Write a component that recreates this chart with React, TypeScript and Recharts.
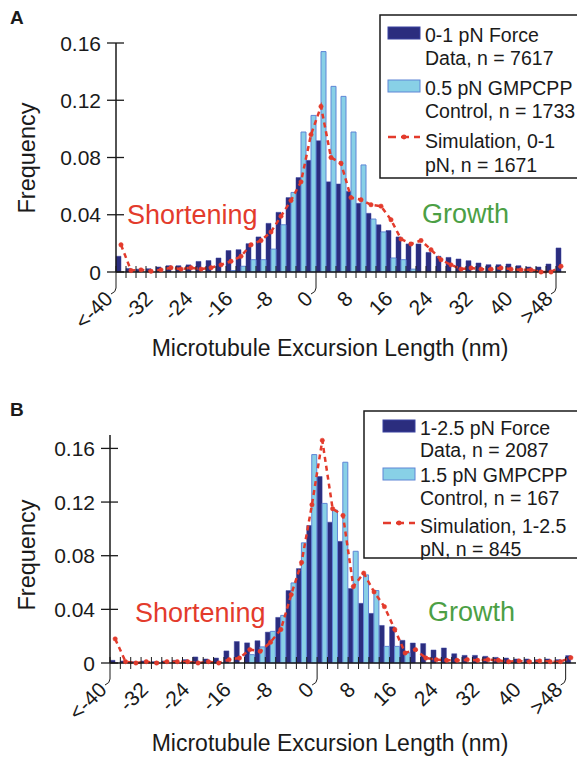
import React from "react";
import { Bar, ComposedChart, Line, XAxis, YAxis } from "recharts";

// 2 nm bins, first is "<-40" and last is ">48"
const bins = [
  -40, -38, -36, -34, -32, -30, -28, -26, -24, -22, -20, -18, -16, -14, -12,
  -10, -8, -6, -4, -2, 0, 2, 4, 6, 8, 10, 12, 14, 16, 18, 20, 22, 24, 26, 28,
  30, 32, 34, 36, 38, 40, 42, 44, 46, 48,
];
const tickLabels = ["<-40", "-32", "-24", "-16", "-8", "0", "8", "16", "24", "32", "40", ">48"];
const yTicks = [0, 0.04, 0.08, 0.12, 0.16];

const forceA = [
  0.011, 0.0025, 0.002, 0.0023, 0.0035, 0.0044, 0.0044, 0.005, 0.0074, 0.008,
  0.0098, 0.015, 0.0156, 0.0198, 0.0245, 0.034, 0.0417, 0.052, 0.066, 0.078,
  0.0917, 0.063, 0.0615, 0.0563, 0.048, 0.041, 0.033, 0.029, 0.0245, 0.0196,
  0.0196, 0.0137, 0.011, 0.0102, 0.0091, 0.0079, 0.0063, 0.0051, 0.0051, 0.0056,
  0.0044, 0.0035, 0.0035, 0.0056, 0.0168,
];
const controlA = [
  0, 0, 0, 0, 0, 0, 0, 0, 0, 0,
  0, 0.001, 0.004, 0.0086, 0.0086, 0.016, 0.033, 0.0556, 0.0978, 0.1094,
  0.154, 0.1297, 0.1227, 0.0978, 0.0748, 0.037, 0.028, 0.0098, 0.0086, 0.002,
  0, 0, 0, 0, 0, 0, 0, 0, 0, 0,
  0, 0, 0, 0, 0,
];
const simA = [
  0.019, 0.001, 0.0015, 0.0005, 0.0015, 0.003, 0.002, 0.003, 0.002, 0.003,
  0.005, 0.0075, 0.011, 0.019, 0.022, 0.028, 0.039, 0.05, 0.063, 0.096,
  0.1157, 0.08, 0.076, 0.052, 0.0505, 0.047, 0.046, 0.0365, 0.023, 0.0196,
  0.022, 0.0156, 0.0086, 0.005, 0.002, 0.0028, 0.002, 0.002, 0.0028, 0.002,
  0.0015, 0.0015, 0, 0, 0.004,
];

const forceB = [
  0.002, 0.0015, 0.001, 0.0015, 0.001, 0.0015, 0.002, 0.0025, 0.0045, 0.003,
  0.0037, 0.009, 0.016, 0.015, 0.0166, 0.023, 0.034, 0.054, 0.0704, 0.1025,
  0.139, 0.105, 0.0907, 0.0555, 0.0445, 0.037, 0.028, 0.027, 0.0169, 0.0149,
  0.0145, 0.0097, 0.0112, 0.0069, 0.0057, 0.0057, 0.005, 0.0042, 0.0037, 0.003,
  0.003, 0.0025, 0.003, 0.0025, 0.0055,
];
const controlB = [
  0, 0, 0, 0, 0, 0, 0, 0, 0, 0,
  0, 0, 0, 0.0062, 0.012, 0.0236, 0.0355, 0.0597, 0.0896, 0.1554,
  0.119, 0.114, 0.1497, 0.0833, 0.0657, 0.054, 0.0124, 0.0124, 0.0075, 0,
  0, 0, 0, 0, 0, 0, 0, 0, 0, 0,
  0, 0, 0, 0, 0,
];
const simB = [
  0.018, 0.001, 0, 0.001, 0, 0.001, 0.001, 0.001, 0, 0.001,
  0, 0.0025, 0.0037, 0.01, 0.0087, 0.0155, 0.025, 0.051, 0.075, 0.118,
  0.166, 0.115, 0.11, 0.057, 0.067, 0.053, 0.042, 0.025, 0.0075, 0.01,
  0.0037, 0.0025, 0.002, 0.002, 0.0025, 0.002, 0.0025, 0.002, 0.001, 0.0015,
  0.001, 0.0015, 0.001, 0.001, 0.004,
];

const legendA = ["0-1 pN Force", "Data,  n = 7617", "0.5 pN GMPCPP", "Control, n = 1733", "Simulation,  0-1", "pN, n = 1671"];
const legendB = ["1-2.5 pN Force", "Data, n = 2087", "1.5 pN GMPCPP", "Control, n = 167", "Simulation, 1-2.5", "pN, n = 845"];

const NAVY = "#2b2d7e";
const CYAN = "#88d0e6";
const CYAN_EDGE = "#5f86d6";
const RED = "#e33b2c";
const GREEN = "#4c9f45";
const INK = "#1a1a1a";
const FONT = '"Liberation Sans", Arial, Helvetica, sans-serif';

const rowsA = bins.map((b, i) => ({ bin: b, force: forceA[i], control: controlA[i], sim: simA[i] }));
const rowsB = bins.map((b, i) => ({ bin: b, force: forceB[i], control: controlB[i], sim: simB[i] }));

function XTick(props: any) {
  const { x, y, payload, index } = props;
  const x0 = x - (payload?.offset ?? 5);
  const lead = index === 0 || index === 20 || index === 44;
  const label = index % 4 === 0 ? tickLabels[index / 4] : null;
  return (
    <g>
      <line x1={x0} x2={x0} y1={y - 6} y2={y + 6} stroke={INK} strokeWidth={1} />
      {lead ? (
        <path
          d={`M${x0},${y + 6} L${x0},${y + 16} Q${x0},${y + 20} ${x0 - 5},${y + 22}`}
          fill="none"
          stroke={INK}
          strokeWidth={1}
        />
      ) : null}
      {label ? (
        <text
          x={x0 - 2}
          y={y + 28}
          textAnchor="end"
          transform={`rotate(-45 ${x0 - 2} ${y + 28})`}
          fontSize={21}
          fontFamily={FONT}
          fill={INK}
        >
          {label}
        </text>
      ) : null}
    </g>
  );
}

function YTick(props: any) {
  const { x, y, payload } = props;
  const v = payload.value as number;
  return (
    <g>
      <line x1={x - 9} x2={x + 8} y1={y} y2={y} stroke={INK} strokeWidth={1.3} />
      <text x={x - 15} y={y} dy="0.36em" textAnchor="end" fontSize={21} fontFamily={FONT} fill={INK}>
        {v === 0 ? "0" : v.toFixed(2)}
      </text>
    </g>
  );
}

function Panel({
  rows,
  top,
  height,
  margin,
  yWidth,
  yMax,
}: {
  rows: Array<Record<string, number>>;
  top: number;
  height: number;
  margin: { top: number; right: number; bottom: number; left: number };
  yWidth: number;
  yMax: number;
}) {
  return (
    <div style={{ position: "absolute", left: 0, top }}>
      <ComposedChart width={577} height={height} data={rows} margin={margin} barGap={0} barCategoryGap={0}>
        <XAxis
          dataKey="bin"
          type="category"
          interval={0}
          height={90}
          tickSize={0}
          tickMargin={0}
          tickLine={false}
          tick={<XTick />}
          axisLine={{ stroke: INK, strokeWidth: 1.5 }}
        />
        <YAxis
          type="number"
          domain={[0, yMax]}
          ticks={yTicks}
          width={yWidth}
          tickSize={0}
          tickMargin={0}
          tickLine={false}
          tick={<YTick />}
          axisLine={{ stroke: INK, strokeWidth: 1.5 }}
        />
        <Bar dataKey="force" fill={NAVY} stroke="#3a43a0" strokeWidth={0.5} isAnimationActive={false} />
        <Bar dataKey="control" fill={CYAN} stroke={CYAN_EDGE} strokeWidth={1} isAnimationActive={false} />
        <Line
          dataKey="sim"
          type="linear"
          stroke={RED}
          strokeWidth={2.5}
          strokeDasharray="5 4"
          dot={{ r: 2.2, fill: RED, stroke: RED, strokeWidth: 0.5, strokeDasharray: "0" }}
          isAnimationActive={false}
        />
      </ComposedChart>
    </div>
  );
}

// rows: baselines of the six text lines, then swatch tops and the sample line, relative to box top
function LegendBox({
  x,
  y,
  w,
  h,
  lines,
  base,
  darkY,
  lightY,
  redY,
  textX,
}: {
  x: number;
  y: number;
  w: number;
  h: number;
  lines: string[];
  base: number[];
  darkY: number;
  lightY: number;
  redY: number;
  textX: number;
}) {
  return (
    <g fontFamily={FONT} fontSize={19.5} fill={INK}>
      <rect x={x} y={y} width={w} height={h} fill="#fff" stroke={INK} strokeWidth={1.5} />
      <rect x={textX - 37} y={y + darkY} width={32} height={12} fill={NAVY} stroke="#3a43a0" />
      <rect x={textX - 37} y={y + lightY} width={32} height={12} fill={CYAN} stroke={CYAN_EDGE} />
      <line x1={textX - 37} x2={textX - 5} y1={y + redY} y2={y + redY} stroke={RED} strokeWidth={2.5} strokeDasharray="8 5" />
      <circle cx={textX - 21} cy={y + redY} r={2.4} fill={RED} />
      {lines.map((t, i) => (
        <text key={i} x={textX} y={y + base[i]}>
          {t}
        </text>
      ))}
    </g>
  );
}

export default function App() {
  return (
    <div style={{ position: "absolute", left: 0, top: 0, width: 577, height: 776, background: "#fff", overflow: "hidden" }}>
      <Panel rows={rowsA} top={0} height={380} margin={{ top: 43, right: 11, bottom: 18, left: 0 }} yWidth={116} yMax={0.16} />
      <Panel rows={rowsB} top={380} height={396} margin={{ top: 55, right: 1, bottom: 23, left: 0 }} yWidth={110} yMax={0.17} />
      <svg width={577} height={776} style={{ position: "absolute", left: 0, top: 0, pointerEvents: "none" }}>
        <g fontFamily={FONT} fill={INK}>
          <text x={10} y={24} fontSize={19} fontWeight="bold">A</text>
          <text x={10} y={416} fontSize={19} fontWeight="bold">B</text>
          <text x={27} y={158} fontSize={23.5} textAnchor="middle" dominantBaseline="central" transform="rotate(-90 27 158)">Frequency</text>
          <text x={27} y={555} fontSize={23.5} textAnchor="middle" dominantBaseline="central" transform="rotate(-90 27 555)">Frequency</text>
          <text x={330} y={356} fontSize={23} textAnchor="middle">Microtubule Excursion Length (nm)</text>
          <text x={330} y={751} fontSize={23} textAnchor="middle">Microtubule Excursion Length (nm)</text>
        </g>
        <g fontFamily={FONT} fontSize={27}>
          <text x={127} y={224} fill={RED}>Shortening</text>
          <text x={422} y={223} fill={GREEN}>Growth</text>
          <text x={135} y={622} fill={RED}>Shortening</text>
          <text x={428} y={621} fill={GREEN}>Growth</text>
        </g>
        <LegendBox
          x={380}
          y={15}
          w={205}
          h={163}
          textX={425}
          lines={legendA}
          base={[27, 50, 80, 103, 133, 157]}
          darkY={12}
          lightY={65}
          redY={122}
        />
        <LegendBox
          x={364}
          y={411}
          w={220}
          h={147}
          textX={420}
          lines={legendB}
          base={[24, 46, 71, 94, 122, 145]}
          darkY={9}
          lightY={57}
          redY={112}
        />
      </svg>
    </div>
  );
}
